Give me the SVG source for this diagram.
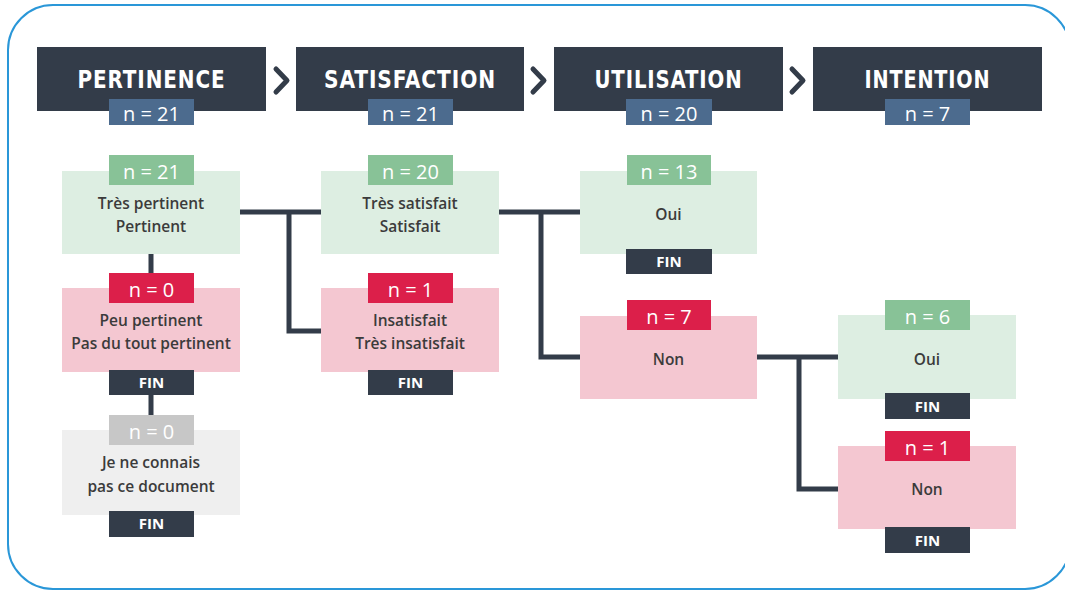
<svg xmlns="http://www.w3.org/2000/svg" width="1065" height="591" viewBox="0 0 1065 591">
<style>
.hdr{fill:#333c49}
.htxt{font-family:"DejaVu Sans Condensed","DejaVu Sans",sans-serif;font-weight:bold;font-size:25px;fill:#ffffff;text-anchor:middle;letter-spacing:1px}
.hb{fill:#4c6b8e}
.btxt{font-family:"Open Sans",sans-serif;font-weight:400;font-size:20px;fill:#ffffff;text-anchor:middle}
.gbox{fill:#ddeee2}
.gbadge{fill:#88c297}
.pbox{fill:#f4c7d1}
.rbadge{fill:#dc1f4a}
.ybox{fill:#efefef}
.ybadge{fill:#c7c7c7}
.fin{fill:#333c49}
.ftxt{font-family:"Open Sans",sans-serif;font-weight:700;font-size:15px;fill:#ffffff;text-anchor:middle}
.ntxt{font-family:"Open Sans",sans-serif;font-weight:600;font-size:15.5px;fill:#3b3b3b;text-anchor:middle}
.chev{fill:none;stroke:#333c49;stroke-width:5;stroke-linecap:round;stroke-linejoin:round}
.conn{fill:none;stroke:#333c49;stroke-width:5;stroke-linejoin:miter}
</style>
<rect x="8" y="5" width="1062" height="584" rx="45" ry="45" fill="#ffffff" stroke="#2a97d8" stroke-width="2"/>

<g id="connectors">
<path class="conn" d="M151 254 V273 M151 395 V415"/>
<path class="conn" d="M240 212 H321 M289 212 V331 H321"/>
<path class="conn" d="M499 212 H580 M541 212 V357 H580"/>
<path class="conn" d="M757 357 H838 M799 357 V489 H838"/>
</g>

<g id="header-pertinence">
<rect class="hdr" x="37" y="47" width="229" height="64"/>
<text class="htxt" x="151.5" y="88" textLength="148" lengthAdjust="spacingAndGlyphs">PERTINENCE</text>
<rect class="hb" x="109" y="99" width="85" height="26"/>
<text class="btxt" x="151.5" y="121">n = 21</text>
</g>
<polyline class="chev" points="276,69 287,80.5 276,92"/>
<g id="header-satisfaction">
<rect class="hdr" x="296" y="47" width="228" height="64"/>
<text class="htxt" x="410" y="88" textLength="172" lengthAdjust="spacingAndGlyphs">SATISFACTION</text>
<rect class="hb" x="368" y="99" width="85" height="26"/>
<text class="btxt" x="410.5" y="121">n = 21</text>
</g>
<polyline class="chev" points="533,69 544,80.5 533,92"/>
<g id="header-utilisation">
<rect class="hdr" x="554" y="47" width="229" height="64"/>
<text class="htxt" x="668.5" y="88" textLength="148" lengthAdjust="spacingAndGlyphs">UTILISATION</text>
<rect class="hb" x="626" y="99" width="86" height="26"/>
<text class="btxt" x="669" y="121">n = 20</text>
</g>
<polyline class="chev" points="792,69 803,80.5 792,92"/>
<g id="header-intention">
<rect class="hdr" x="813" y="47" width="229" height="64"/>
<text class="htxt" x="927.5" y="88" textLength="126" lengthAdjust="spacingAndGlyphs">INTENTION</text>
<rect class="hb" x="885" y="99" width="85" height="26"/>
<text class="btxt" x="927.5" y="121">n = 7</text>
</g>

<g id="node-tres-pertinent">
<rect class="gbox" x="62" y="171" width="178" height="83"/>
<rect class="gbadge" x="109" y="155" width="85" height="30"/>
<text class="btxt" x="151.5" y="179">n = 21</text>
<text class="ntxt" x="151" y="209">Très pertinent</text>
<text class="ntxt" x="151" y="232">Pertinent</text>
</g>
<g id="node-peu-pertinent">
<rect class="pbox" x="62" y="288" width="178" height="84"/>
<rect class="rbadge" x="109" y="273" width="85" height="30"/>
<text class="btxt" x="151.5" y="297">n = 0</text>
<text class="ntxt" x="151" y="326">Peu pertinent</text>
<text class="ntxt" x="151" y="349">Pas du tout pertinent</text>
<rect class="fin" x="109" y="370" width="85" height="25"/>
<text class="ftxt" x="151.5" y="388">FIN</text>
</g>
<g id="node-je-ne-connais">
<rect class="ybox" x="62" y="430" width="178" height="85"/>
<rect class="ybadge" x="109" y="415" width="85" height="30"/>
<text class="btxt" x="151.5" y="439">n = 0</text>
<text class="ntxt" x="151" y="468">Je ne connais</text>
<text class="ntxt" x="151" y="492">pas ce document</text>
<rect class="fin" x="109" y="511" width="85" height="26"/>
<text class="ftxt" x="151.5" y="529">FIN</text>
</g>

<g id="node-tres-satisfait">
<rect class="gbox" x="321" y="171" width="178" height="83"/>
<rect class="gbadge" x="368" y="155" width="85" height="30"/>
<text class="btxt" x="410.5" y="179">n = 20</text>
<text class="ntxt" x="410" y="209">Très satisfait</text>
<text class="ntxt" x="410" y="232">Satisfait</text>
</g>
<g id="node-insatisfait">
<rect class="pbox" x="321" y="288" width="178" height="84"/>
<rect class="rbadge" x="368" y="273" width="85" height="30"/>
<text class="btxt" x="410.5" y="297">n = 1</text>
<text class="ntxt" x="410" y="326">Insatisfait</text>
<text class="ntxt" x="410" y="349">Très insatisfait</text>
<rect class="fin" x="368" y="370" width="85" height="25"/>
<text class="ftxt" x="410.5" y="388">FIN</text>
</g>

<g id="node-utilisation-oui">
<rect class="gbox" x="580" y="171" width="177" height="83"/>
<rect class="gbadge" x="627" y="155" width="84" height="30"/>
<text class="btxt" x="669" y="179">n = 13</text>
<text class="ntxt" x="668.5" y="220">Oui</text>
<rect class="fin" x="626" y="249" width="86" height="25"/>
<text class="ftxt" x="669" y="267">FIN</text>
</g>
<g id="node-utilisation-non">
<rect class="pbox" x="580" y="316" width="177" height="83"/>
<rect class="rbadge" x="627" y="300" width="84" height="30"/>
<text class="btxt" x="669" y="324">n = 7</text>
<text class="ntxt" x="668.5" y="365">Non</text>
</g>

<g id="node-intention-oui">
<rect class="gbox" x="838" y="315" width="178" height="84"/>
<rect class="gbadge" x="885" y="300" width="85" height="30"/>
<text class="btxt" x="927.5" y="324">n = 6</text>
<text class="ntxt" x="927" y="365">Oui</text>
<rect class="fin" x="885" y="393" width="85" height="26"/>
<text class="ftxt" x="927.5" y="412">FIN</text>
</g>
<g id="node-intention-non">
<rect class="pbox" x="838" y="446" width="178" height="83"/>
<rect class="rbadge" x="885" y="431" width="85" height="30"/>
<text class="btxt" x="927.5" y="455">n = 1</text>
<text class="ntxt" x="927" y="495">Non</text>
<rect class="fin" x="885" y="527" width="85" height="26"/>
<text class="ftxt" x="927.5" y="546">FIN</text>
</g>
</svg>
